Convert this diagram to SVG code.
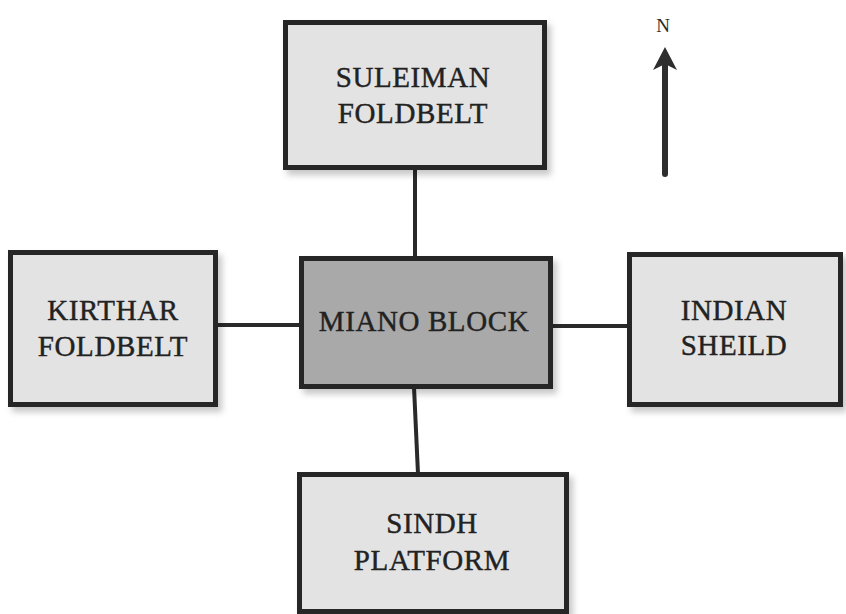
<svg xmlns="http://www.w3.org/2000/svg" width="846" height="614" viewBox="0 0 846 614">
  <defs>
    <filter id="shadow" x="-10%" y="-10%" width="125%" height="130%">
      <feDropShadow dx="4" dy="5" stdDeviation="3" flood-color="#000" flood-opacity="0.22"/>
    </filter>
    <style>
      .box { fill: #e3e3e3; stroke: #262626; stroke-width: 5; filter: url(#shadow); }
      .core { fill: #a9a9a9; }
      .label { font-size: 29px; fill: #222222; text-anchor: middle; letter-spacing: 0.6px; stroke: #222222; stroke-width: 0.4px; }
      .link { stroke: #2a2a2a; stroke-width: 4; fill: none; }
    </style>
  </defs>
  <rect width="846" height="614" fill="#ffffff"/>

  <!-- connectors between the central block and its neighbours -->
  <g id="connectors">
    <line class="link" x1="415" y1="168" x2="415" y2="258"/>
    <line class="link" x1="414" y1="387" x2="418" y2="474"/>
    <line class="link" x1="216" y1="325" x2="301" y2="325"/>
    <line class="link" x1="551" y1="326" x2="629" y2="326"/>
  </g>

  <g font-family="'Liberation Serif', 'Times New Roman', serif">
    <g id="suleiman">
      <rect class="box" x="285.5" y="22.5" width="259" height="145"/>
      <text class="label" x="413" y="87">SULEIMAN</text>
      <text class="label" x="413" y="123">FOLDBELT</text>
    </g>

    <g id="kirthar">
      <rect class="box" x="10.5" y="252.5" width="205" height="152"/>
      <text class="label" x="113" y="320">KIRTHAR</text>
      <text class="label" x="113" y="356">FOLDBELT</text>
    </g>

    <g id="miano">
      <rect class="box core" x="301.5" y="258.5" width="249" height="128"/>
      <text class="label" x="424" y="331">MIANO BLOCK</text>
    </g>

    <g id="indian">
      <rect class="box" x="629.5" y="254.5" width="211" height="150"/>
      <text class="label" x="734" y="320">INDIAN</text>
      <text class="label" x="734" y="355">SHEILD</text>
    </g>

    <g id="sindh">
      <rect class="box" x="299.5" y="474.5" width="267" height="137"/>
      <text class="label" x="432" y="533">SINDH</text>
      <text class="label" x="432" y="570">PLATFORM</text>
    </g>

    <!-- north arrow -->
    <g id="north">
      <text x="663" y="32" font-size="19" fill="#2a2a2a" text-anchor="middle">N</text>
      <line x1="665" y1="66" x2="665" y2="174" stroke="#2e2e2e" stroke-width="6" stroke-linecap="round"/>
      <polygon points="665,47 677,70 665,64 653,70" fill="#2e2e2e"/>
    </g>
  </g>
</svg>
